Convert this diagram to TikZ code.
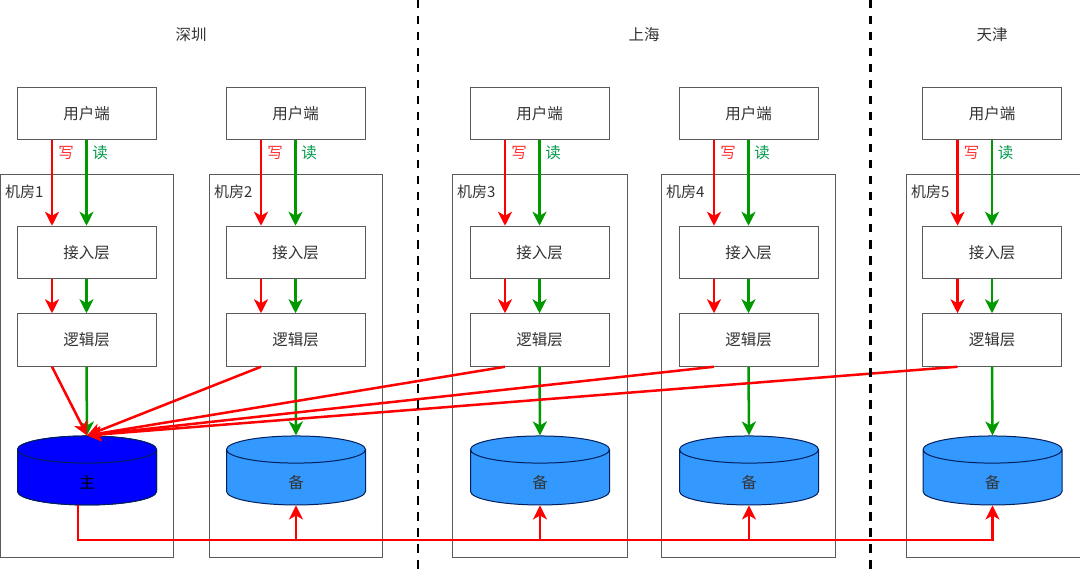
\documentclass[tikz,border=0pt]{standalone}
\usepackage{fontspec}
\setmainfont{Noto Sans CJK SC}
\usetikzlibrary{arrows.meta,shapes.geometric}
\definecolor{wrred}{HTML}{FF0000}
\definecolor{rdgreen}{HTML}{009900}
\definecolor{wrtext}{HTML}{FF3333}
\definecolor{rdtext}{HTML}{00994D}
\definecolor{edgegray}{HTML}{5A5A5A}
\definecolor{masterblue}{HTML}{0000FF}
\definecolor{slaveblue}{HTML}{3399FF}
\definecolor{dbedge}{HTML}{001F5C}
\tikzset{
  layerbox/.style={draw=edgegray,line width=1pt,fill=white,inner sep=0pt,
    minimum width=139pt,minimum height=52.5pt,font=\fontsize{15.5}{17}\selectfont,text=black!80},
  roombox/.style={draw=edgegray,line width=1pt,inner sep=0pt,minimum height=383.5pt,anchor=north west},
  roomlabel/.style={anchor=west,inner sep=0pt,font=\fontsize{15}{17}\selectfont,text=black!80},
  citylabel/.style={inner sep=0pt,font=\fontsize{15.5}{17}\selectfont,text=black!80},
  dbbox/.style={cylinder,shape border rotate=90,aspect=1.75,draw=dbedge,line width=1pt,
    inner sep=0pt,minimum width=139pt,minimum height=69pt,font=\fontsize{15.5}{17}\selectfont,text=black!80},
  wr/.style={-{Stealth[length=14pt,width=14pt,inset=4pt]},wrred,line width=2.5pt},
  rd/.style={-{Stealth[length=14pt,width=14pt,inset=4pt]},rdgreen,line width=2.5pt},
  sep/.style={black,line width=2.6pt,dash pattern=on 8.5pt off 7.5pt}
}
\newcommand{\dbtext}[1]{\raisebox{-10.5pt}[0pt][0pt]{#1}}
\begin{document}
\begin{tikzpicture}[x=1pt,y=-1pt]
\useasboundingbox (0,0) rectangle (1080,575);
\foreach \n/\cx/\rl/\rw in {1/86.5/0/173,2/295.5/209/173,3/539.5/452/175,4/748.5/661/174,5/992/906/174}{
  \node[roombox,minimum width=\rw pt] (room\n) at (\rl,173.7) {};
  \node[roomlabel] (roomlab\n) at (\rl+5,192) {机房\n};
  \node[layerbox] (user\n) at (\cx,113.3) {用户端};
  \node[layerbox] (access\n) at (\cx,252.5) {接入层};
  \node[layerbox] (logic\n) at (\cx,340) {逻辑层};
  \node[dbbox,fill=slaveblue] (db\n) at (\cx+0.5,477.5) {\dbtext{备}};
  \node[text=wrtext,inner sep=0pt,font=\fontsize{15.5}{17}\selectfont] (wrlab\n) at (\cx-20.5,152.5) {写};
  \node[text=rdtext,inner sep=0pt,font=\fontsize{15.5}{17}\selectfont] (rdlab\n) at (\cx+13.5,152.5) {读};
  \draw[wr] ([xshift=-34.5pt]user\n.south) -- ([xshift=-34.5pt]access\n.north);
  \draw[rd] (user\n.south) -- (access\n.north);
  \draw[wr] ([xshift=-34.5pt]access\n.south) -- ([xshift=-34.5pt]logic\n.north);
  \draw[rd] (access\n.south) -- (logic\n.north);
  \draw[rd] (logic\n.south) -- (db\n.north);
}
\node[dbbox,fill=masterblue,text=black] (master) at (db1) {\dbtext{主}};
\foreach \n in {1,...,5}
  \draw[wr] ([xshift=-34.5pt]logic\n.south) -- (master.north);
\coordinate (bus) at (78,540);
\draw[wr] (master.south -| bus) -- (bus) -| (db5.south);
\foreach \n in {2,3,4}
  \draw[wr] (bus -| db\n.south) -- (db\n.south);
\node[citylabel] (city1) at (191,34.5) {深圳};
\node[citylabel] (city2) at (644,34.5) {上海};
\node[citylabel] (city3) at (992,34.5) {天津};
\coordinate (septop1) at (418,0);
\coordinate (sepbot1) at (418,575);
\coordinate (septop2) at (870.5,0);
\coordinate (sepbot2) at (870.5,575);
\draw[sep] (septop1) -- (sepbot1);
\draw[sep] (septop2) -- (sepbot2);
\end{tikzpicture}
\end{document}
